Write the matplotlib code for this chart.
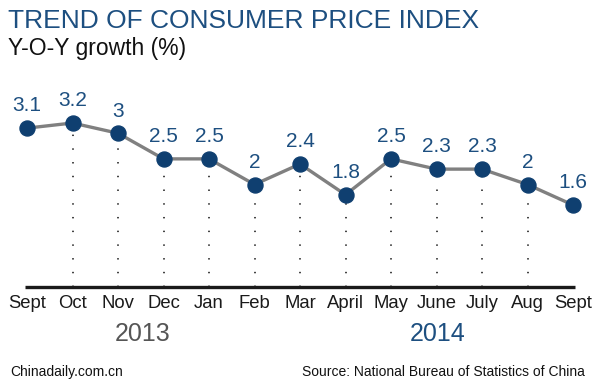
import matplotlib
matplotlib.use("Agg")
import matplotlib.pyplot as plt
import matplotlib.transforms as mtransforms

months = ["Sept", "Oct", "Nov", "Dec", "Jan", "Feb", "Mar", "April",
          "May", "June", "July", "Aug", "Sept"]
values = [3.1, 3.2, 3.0, 2.5, 2.5, 2.0, 2.4, 1.8, 2.5, 2.3, 2.3, 2.0, 1.6]
value_labels = ["3.1", "3.2", "3", "2.5", "2.5", "2", "2.4", "1.8",
                "2.5", "2.3", "2.3", "2", "1.6"]
years = ["2013", "2014"]

plt.rcParams['font.family'] = ['Liberation Sans', 'DejaVu Sans']

W, H, DPI = 592, 385, 100
fig = plt.figure(figsize=(W / DPI, H / DPI), dpi=DPI)
fig.patch.set_facecolor("white")
ax = fig.add_axes([0, 0, 1, 1])
ax.set_axis_off()

step = 45.5
x0 = 27
base_px = 287
unit_px = 51.25
ax.set_xlim(-x0 / step, (W - x0) / step)
ax.set_ylim(-(H - base_px) / unit_px, base_px / unit_px)

navy = "#0f3f70"
blue = "#1d4f80"
xs = list(range(len(values)))

# dotted drop lines (not for first and last)
ax.vlines(xs[1:-1], 0, values[1:-1], colors="#333333", linewidth=1.3,
          linestyles=(0, (0.8, 6.8)), zorder=1)
# baseline
ax.hlines(0, -0.05, len(values) - 1 + 0.05, colors="#1a1a1a", linewidth=2.4, zorder=2)
# line
ax.plot(xs, values, color="#808080", linewidth=2.4, zorder=3)
ax.plot(xs, values, linestyle="none", marker="o", markersize=10.8,
        markerfacecolor=navy, markeredgecolor=navy, zorder=4)

for x, v, lab in zip(xs, values, value_labels):
    ax.annotate(lab, (x, v), xytext=(0, 12), textcoords="offset points",
                ha="center", va="baseline", fontsize=15, color=blue)

trans = mtransforms.blended_transform_factory(ax.transData, fig.transFigure)

def fy(px):
    return 1 - px / H

for x, m in zip(xs, months):
    ax.text(x, fy(308), m, transform=trans, ha="center", va="baseline",
            fontsize=13.3, color="#1a1a1a")

ax.text(2.55, fy(341), years[0], transform=trans, ha="center", va="baseline",
        fontsize=18, color="#555555")
ax.text(9.03, fy(341), years[1], transform=trans, ha="center", va="baseline",
        fontsize=18, color=blue)

fig.text(8 / W, fy(28), "TREND OF CONSUMER PRICE INDEX", ha="left", va="baseline",
         fontsize=19, color=blue)
fig.text(8 / W, fy(55), "Y-O-Y growth (%)", ha="left", va="baseline",
         fontsize=16.5, color="#111111")
fig.text(10 / W, fy(376), "Chinadaily.com.cn", ha="left", va="baseline",
         fontsize=10, color="#111111")
fig.text(585 / W, fy(376), "Source: National Bureau of Statistics of China",
         ha="right", va="baseline", fontsize=10, color="#111111")

fig.savefig("out.png", dpi=DPI, facecolor="white")
